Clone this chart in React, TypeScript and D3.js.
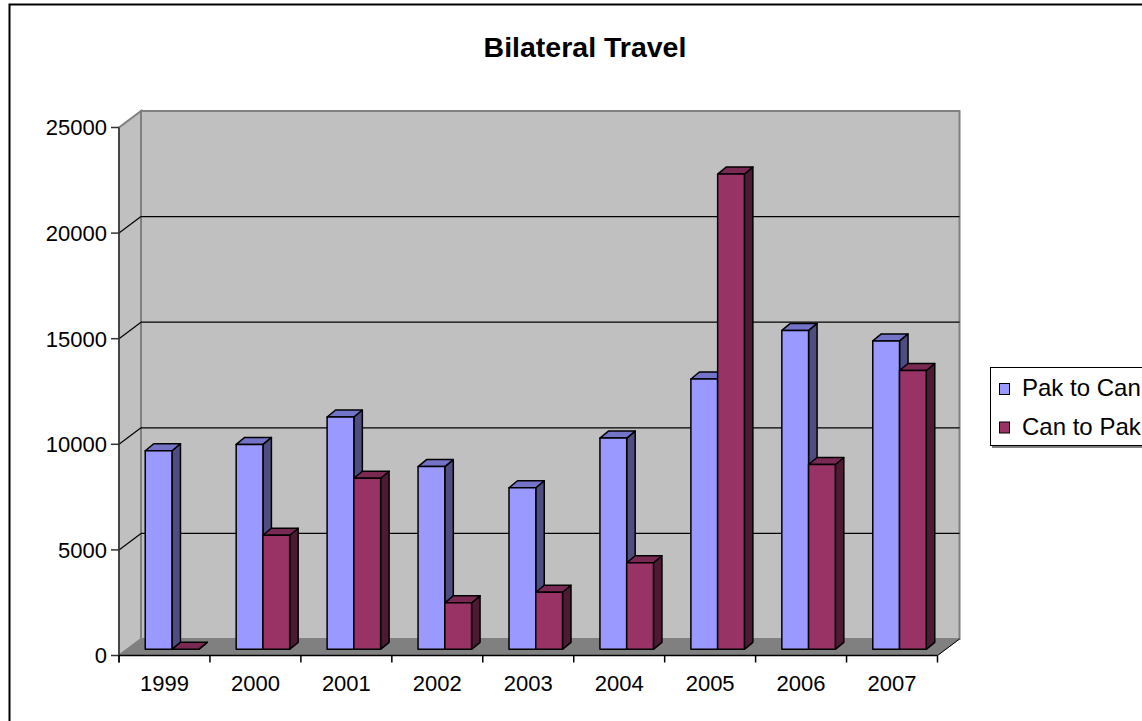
import React from "react";
import * as d3 from "d3";

// Annual travellers between the two countries
const years = ["1999", "2000", "2001", "2002", "2003", "2004", "2005", "2006", "2007"];
const seriesNames = ["Pak to Can", "Can to Pak"];
const pakToCan = [9400, 9700, 11000, 8650, 7650, 10000, 12800, 15100, 14600];
const canToPak = [0, 5400, 8100, 2200, 2700, 4100, 22500, 8750, 13200];
const yTicks = [0, 5000, 10000, 15000, 20000, 25000];

const W = 1142;
const H = 721;
const FONT = "'Liberation Sans', Arial, sans-serif";

// front plane of the 3D box
const plotLeft = 119;
const plotRight = 937.5;
const yBottom = 655.5;
const yTopPx = 127.5;
// depth of the box (towards the back wall)
const DX = 22;
const DY = -16.5;
// bars sit a little inside the box and have their own depth
const BAR_SHIFT_X = 7.5;
const BAR_SHIFT_Y = -6.2;
const BDX = 8.5;
const BDY = -7;

const seriesColors = [
  { front: "#9999FF", top: "#7373C8", side: "#4D4D80" },
  { front: "#993366", top: "#7A2952", side: "#4D1A33" },
];

const pts = (p: [number, number][]) => p.map((d) => d.join(",")).join(" ");

export default function App() {
  const y = d3.scaleLinear().domain([0, 25000]).range([yBottom, yTopPx]);
  const x = d3.scaleBand<string>().domain(years).range([plotLeft, plotRight]);
  const inner = d3
    .scaleBand<string>()
    .domain(seriesNames)
    .range([0, x.bandwidth()])
    .paddingInner(0)
    .paddingOuter(0.7);
  const bw = inner.bandwidth();
  const values = [pakToCan, canToPak];

  const backLeft = plotLeft + DX;
  const backRight = plotRight + DX;
  const backTop = y(25000) + DY;
  const backBottom = y(0) + DY;

  const bars: JSX.Element[] = [];
  years.forEach((yr, i) => {
    seriesNames.forEach((s, si) => {
      const v = values[si][i];
      const c = seriesColors[si];
      const x0 = (x(yr) as number) + (inner(s) as number) + BAR_SHIFT_X;
      const x1 = x0 + bw;
      const yb = y(0) + BAR_SHIFT_Y;
      const yt = y(v) + BAR_SHIFT_Y;
      bars.push(
        <g key={yr + s} stroke="#000" strokeWidth={1.5} strokeLinejoin="round">
          <polygon
            fill={c.side}
            points={pts([
              [x1, yt],
              [x1 + BDX, yt + BDY],
              [x1 + BDX, yb + BDY],
              [x1, yb],
            ])}
          />
          <polygon
            fill={c.top}
            points={pts([
              [x0, yt],
              [x1, yt],
              [x1 + BDX, yt + BDY],
              [x0 + BDX, yt + BDY],
            ])}
          />
          {v > 0 && <rect x={x0} y={yt} width={bw} height={yb - yt} fill={c.front} />}
        </g>
      );
    });
  });

  const catEdges = [...years.map((yr) => x(yr) as number), plotRight];

  return (
    <svg
      width={W}
      height={H}
      style={{ position: "absolute", left: 0, top: 0, display: "block", background: "#fff" }}
      fontFamily={FONT}
    >
      {/* chart area border */}
      <rect x={9.5} y={4.5} width={1160} height={740} fill="#fff" stroke="#000" strokeWidth={2} />

      <text x={585} y={57} textAnchor="middle" fontSize={28.5} fontWeight="bold" fill="#000">
        Bilateral Travel
      </text>

      {/* walls and floor */}
      <polygon
        fill="#C0C0C0"
        stroke="#808080"
        strokeWidth={2}
        points={pts([
          [backLeft, backTop],
          [backRight, backTop],
          [backRight, backBottom],
          [backLeft, backBottom],
        ])}
      />
      <polygon
        fill="#C0C0C0"
        stroke="#808080"
        strokeWidth={2}
        points={pts([
          [plotLeft, y(0)],
          [backLeft, backBottom],
          [backLeft, backTop],
          [plotLeft, y(25000)],
        ])}
      />
      <polygon
        fill="#808080"
        stroke="#808080"
        strokeWidth={1}
        points={pts([
          [plotLeft, y(0)],
          [plotRight, y(0)],
          [backRight, backBottom],
          [backLeft, backBottom],
        ])}
      />

      {/* gridlines */}
      {yTicks
        .filter((t) => t > 0 && t < 25000)
        .map((t) => (
          <g key={"g" + t} stroke="#000" strokeWidth={1.2}>
            <line x1={backLeft} x2={backRight} y1={y(t) + DY} y2={y(t) + DY} />
            <line x1={plotLeft} x2={backLeft} y1={y(t)} y2={y(t) + DY} />
          </g>
        ))}

      {/* value axis */}
      <line x1={plotLeft} x2={plotLeft} y1={y(25000)} y2={y(0) + 7} stroke="#333" strokeWidth={1.5} />
      {yTicks.map((t) => (
        <g key={"t" + t}>
          <line x1={plotLeft - 8} x2={plotLeft} y1={y(t)} y2={y(t)} stroke="#333" strokeWidth={1.5} />
          <text x={107} y={y(t) + 7.8} textAnchor="end" fontSize={22} fill="#000">
            {t}
          </text>
        </g>
      ))}

      {/* category axis */}
      <line x1={plotLeft} x2={plotRight} y1={y(0)} y2={y(0)} stroke="#000" strokeWidth={1.5} />
      <line x1={plotRight} x2={backRight} y1={y(0)} y2={backBottom} stroke="#000" strokeWidth={1} />
      {catEdges.map((e, i) => (
        <line key={"c" + i} x1={e} x2={e} y1={y(0)} y2={y(0) + 7} stroke="#000" strokeWidth={1.5} />
      ))}
      {years.map((yr) => (
        <text
          key={"l" + yr}
          x={(x(yr) as number) + x.bandwidth() / 2}
          y={690.5}
          textAnchor="middle"
          fontSize={22}
          fill="#000"
        >
          {yr}
        </text>
      ))}

      {bars}

      {/* legend */}
      <rect x={992} y={369} width={170} height={79} fill="#808080" />
      <rect x={990.5} y={367.5} width={170} height={78} fill="#fff" stroke="#000" strokeWidth={1} />
      {seriesNames.map((s, si) => (
        <g key={"lg" + s}>
          <rect
            x={999.5}
            y={383.5 + si * 38.5}
            width={10}
            height={11}
            fill={seriesColors[si].front}
            stroke="#000"
            strokeWidth={1}
          />
          <text x={1022} y={396 + si * 38.5} fontSize={24} fill="#000">
            {s}
          </text>
        </g>
      ))}
    </svg>
  );
}
